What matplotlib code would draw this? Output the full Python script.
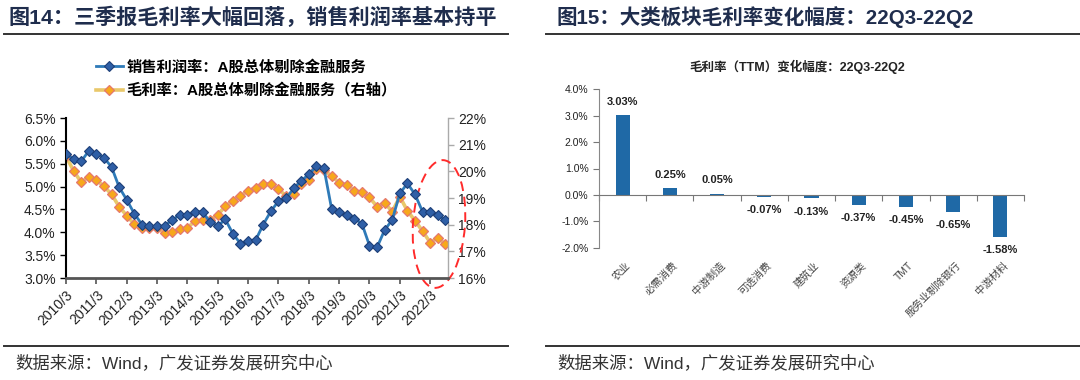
import matplotlib
matplotlib.use("Agg")
import matplotlib.pyplot as plt
from matplotlib.lines import Line2D
from matplotlib.patches import Ellipse
from matplotlib.transforms import IdentityTransform, blended_transform_factory
from matplotlib.ticker import FuncFormatter, MultipleLocator

plt.rcParams['font.family'] = ['Liberation Sans', 'Noto Sans CJK SC']

# ---------------- data ----------------
year_labels = ["2010/3", "2011/3", "2012/3", "2013/3", "2014/3", "2015/3", "2016/3",
               "2017/3", "2018/3", "2019/3", "2020/3", "2021/3", "2022/3"]
quarters = [f"{y}/{m}" for y in range(2010, 2023) for m in (3, 6, 9, 12)][:51]

sales_margin = [5.71, 5.60, 5.55, 5.78, 5.72, 5.63, 5.43, 4.99, 4.71, 4.41, 4.17, 4.13, 4.13,
                4.14, 4.27, 4.38, 4.38, 4.45, 4.45, 4.22, 4.14, 4.28, 3.97, 3.75, 3.82, 3.83,
                4.17, 4.46, 4.68, 4.74, 4.96, 5.12, 5.27, 5.44, 5.40, 4.52, 4.45, 4.37, 4.30,
                4.19, 3.71, 3.67, 4.05, 4.27, 4.85, 5.07, 4.83, 4.45, 4.45, 4.38, 4.27]
gross_margin = [20.56, 20.02, 19.59, 19.80, 19.67, 19.44, 19.14, 18.68, 18.34, 18.02, 17.86,
                17.86, 17.88, 17.68, 17.71, 17.82, 17.88, 18.14, 18.16, 18.19, 18.36, 18.70,
                18.89, 19.09, 19.26, 19.39, 19.54, 19.52, 19.33, 19.08, 19.14, 19.52, 19.69,
                20.07, 20.04, 19.83, 19.57, 19.49, 19.28, 19.21, 19.02, 18.68, 18.82, 18.49,
                19.05, 18.52, 18.15, 17.76, 17.33, 17.51, 17.26]
label_sales = "销售利润率：A股总体剔除金融服务"
label_gross = "毛利率：A股总体剔除金融服务（右轴）"

sectors = ["农业", "必需消费", "中游制造", "可选消费", "建筑业", "资源类", "TMT",
           "服务业剔除银行", "中游材料"]
changes = [3.03, 0.25, 0.05, -0.07, -0.13, -0.37, -0.45, -0.65, -1.58]

title_left = "图14：三季报毛利率大幅回落，销售利润率基本持平"
title_right = "图15：大类板块毛利率变化幅度：22Q3-22Q2"
subtitle_right = "毛利率（TTM）变化幅度：22Q3-22Q2"
source = "数据来源：Wind，广发证券发展研究中心"

# ---------------- figure ----------------
W, H = 1080, 380
fig = plt.figure(figsize=(W / 100, H / 100), dpi=100)

def fx(px):
    return px / W

def fy(py):
    return 1 - py / H

title_color = '#1f2d4d'
fig.text(fx(8), fy(17), title_left, fontsize=15.2, weight='bold', color=title_color, va='center')
fig.text(fx(557), fy(17), title_right, fontsize=14.8, weight='bold', color=title_color, va='center')
for x0, x1 in [(4, 508), (546, 1080)]:
    fig.add_artist(Line2D([fx(x0), fx(x1)], [fy(34), fy(34)], color='#333333', lw=1.4))
    fig.add_artist(Line2D([fx(x0), fx(x1)], [fy(346), fy(346)], color='#333333', lw=1.4))
fig.text(fx(15), fy(363), source, fontsize=12.5, color='#333333', va='center')
fig.text(fx(557), fy(363), source, fontsize=12.5, color='#333333', va='center')

# ---------------- left chart ----------------
ax = fig.add_axes([fx(66), fy(278), fx(448) - fx(66), fy(118) - fy(278)])
ax2 = ax.twinx()
xs = list(range(len(quarters)))
l1, = ax.plot(xs, sales_margin, color='#2e7ab8', lw=2.0, marker='D', markersize=4.6,
              markerfacecolor='#2f5fa6', markeredgecolor='#1d3f78', markeredgewidth=0.8, zorder=3)
l2, = ax2.plot(xs, gross_margin, color='#e9c86a', lw=2.6, marker='D', markersize=4.6,
               markerfacecolor='#f7a81b', markeredgecolor='#e5786e', markeredgewidth=0.9, zorder=2)
ax.set_zorder(ax2.get_zorder() + 1)
ax.patch.set_visible(False)

ax.set_xlim(0, 50.35)
ax.set_ylim(3.0, 6.5)
ax2.set_ylim(16, 22)
ax.yaxis.set_major_locator(MultipleLocator(0.5))
ax2.yaxis.set_major_locator(MultipleLocator(1))
ax.yaxis.set_major_formatter(FuncFormatter(lambda v, p: f"{v:.1f}%"))
ax2.yaxis.set_major_formatter(FuncFormatter(lambda v, p: f"{v:.0f}%"))
tick_pos = [quarters.index(lbl) for lbl in year_labels]
ax.set_xticks(tick_pos)
ax.set_xticklabels(year_labels, rotation=45, ha='right', rotation_mode='anchor', fontsize=10,
                   color='#222222')
ax.tick_params(axis='x', length=4, width=1.2, color='#555555', pad=3)
ax.tick_params(axis='y', length=4, width=1.0, color='black', labelsize=10, labelcolor='#222222')
ax2.tick_params(axis='y', length=4, width=1.0, color='#aaaaaa', labelsize=10, labelcolor='#222222')
for a in (ax, ax2):
    a.spines['top'].set_visible(False)
ax.spines['left'].set_linewidth(1.5)
ax.spines['left'].set_color('black')
ax.spines['bottom'].set_linewidth(2.0)
ax.spines['bottom'].set_color('#555555')
ax.spines['right'].set_visible(False)
ax2.spines['left'].set_visible(False)
ax2.spines['bottom'].set_visible(False)
ax2.spines['right'].set_color('#aaaaaa')
ax2.spines['right'].set_linewidth(1.0)

fig.legend([l1, l2], [label_sales, label_gross], loc='upper left',
           bbox_to_anchor=(fx(96), fy(60)), frameon=False,
           prop={'weight': 'bold', 'size': 11}, handlelength=1.75, handletextpad=0.25,
           labelspacing=0.55, borderaxespad=0, borderpad=0)

ell = Ellipse((439, H - 224), 52, 128, angle=-4, transform=IdentityTransform(),
              fill=False, edgecolor='#ff2b2b', lw=1.4, linestyle=(0, (5, 3)))
fig.add_artist(ell)

# ---------------- right chart ----------------
bx = fig.add_axes([fx(599), fy(247.7), fx(1024) - fx(599), fy(89.3) - fy(247.7)])
pos = list(range(len(sectors)))
bx.bar(pos, changes, width=0.3, color='#1f69a6', zorder=2)
bx.set_xlim(-0.5, len(sectors) - 0.5)
bx.set_ylim(-2.0, 4.0)
bx.yaxis.set_major_locator(MultipleLocator(1.0))
bx.yaxis.set_major_formatter(FuncFormatter(lambda v, p: f"{v:.1f}%"))
bx.tick_params(axis='y', length=4, width=0.8, color='#777777', labelsize=7.5, labelcolor='#222222')
bx.spines['top'].set_visible(False)
bx.spines['right'].set_visible(False)
bx.spines['left'].set_color('#888888')
bx.spines['left'].set_linewidth(0.8)
bx.spines['bottom'].set_position(('data', 0))
bx.spines['bottom'].set_color('#777777')
bx.spines['bottom'].set_linewidth(0.8)
bx.set_xticks(pos)
bx.set_xticklabels([])
bx.tick_params(axis='x', which='major', length=0)
bx.set_xticks([p - 0.5 for p in pos] + [len(sectors) - 0.5], minor=True)
bx.tick_params(axis='x', which='minor', length=4, width=0.8, color='#777777', direction='out')

for p, v in zip(pos, changes):
    off = 6 if v >= 0 else -6
    bx.annotate(f"{v:.2f}%", (p, v), xytext=(0, off), textcoords='offset points',
                ha='center', va='bottom' if v >= 0 else 'top', fontsize=8, weight='bold',
                color='#222222')

trans = blended_transform_factory(bx.transData, bx.transAxes)
for p, s in zip(pos, sectors):
    bx.text(p + 0.05, -0.08, s, transform=trans, rotation=45, ha='right', va='top',
            rotation_mode='anchor', fontsize=7.5, color='#444444')

fig.text(fx(797), fy(67), subtitle_right, fontsize=9, weight='bold', color='#222222',
         ha='center', va='center')

fig.savefig("out.png", dpi=100)
